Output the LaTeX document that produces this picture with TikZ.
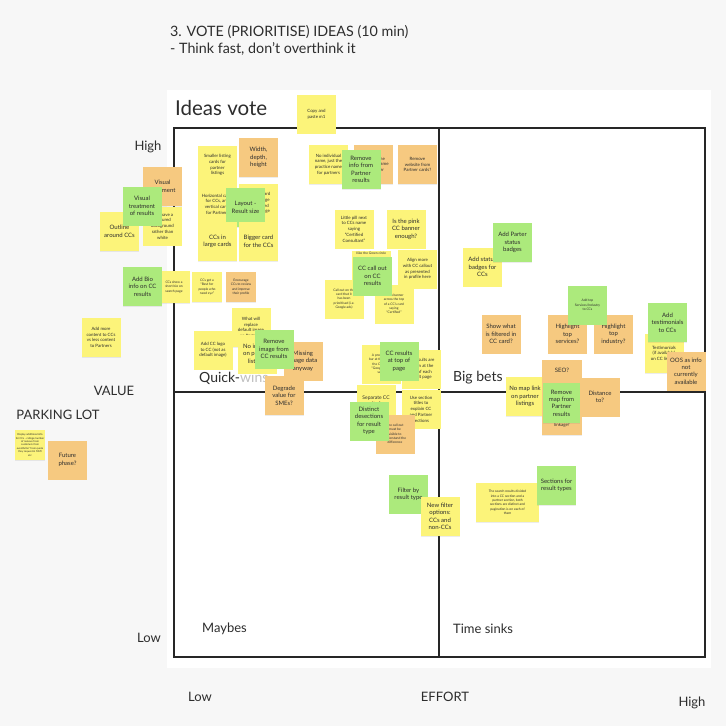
\documentclass[tikz,border=0pt]{standalone}
\usepackage{fontspec}
\setmainfont{Lato}
\usetikzlibrary{shadows}
\definecolor{bgc}{RGB}{247,247,247}
\definecolor{ink}{RGB}{45,45,45}
\definecolor{stY}{RGB}{252,244,122}
\definecolor{stG}{RGB}{172,234,124}
\definecolor{stO}{RGB}{246,201,128}
\tikzset{
  note/.style={minimum width=39pt, minimum height=39pt, inner sep=0pt, align=center,
    text=ink, font=\fontsize{6}{7.4}\selectfont,
    drop shadow={shadow xshift=0.3pt, shadow yshift=-0.7pt, opacity=0.15}},
  ynote/.style={note, fill=stY},
  gnote/.style={note, fill=stG},
  onote/.style={note, fill=stO},
  sm/.style={font=\fontsize{4.4}{5.7}\selectfont},
  tn/.style={font=\fontsize{3.3}{4.3}\selectfont},
  lbl/.style={text=ink, font=\fontsize{13}{15}\selectfont, inner sep=0pt},
  frame/.style={line width=1.6pt, black!85},
}
\begin{document}
\begin{tikzpicture}[x=1pt,y=-1pt]
\useasboundingbox (0,0) rectangle (726,726);
\fill[bgc] (0,0) rectangle (726,726);
\fill[white] (167,90) rectangle (711,668);

% header
\node[lbl, anchor=west, font=\fontsize{14.3}{16}\selectfont] (h1) at (170,32) {3. VOTE (PRIORITISE) IDEAS (10 min)};
\node[lbl, anchor=west, font=\fontsize{14.3}{16}\selectfont] (h2) at (170,49) {- Think fast, don't overthink it};
\node[lbl, anchor=west, font=\fontsize{20.5}{22}\selectfont] (title) at (175,108) {Ideas vote};

% frame
\draw[frame] (174,128) rectangle (705,657);
\coordinate (vt) at (439,128); \coordinate (vb) at (439,657);
\coordinate (hl) at (174,392); \coordinate (hr) at (705,392);
\draw[frame] (vt) -- (vb);
\draw[frame] (hl) -- (hr);

% axis labels
\node[lbl] (vhigh) at (148,147) {High};
\node[lbl] (vlow) at (149,638) {Low};
\node[lbl] (value) at (114,391) {VALUE};
\node[lbl] (park) at (58,415) {PARKING LOT};
\node[lbl] (elow) at (200,697) {Low};
\node[lbl] (effort) at (445,697) {EFFORT};
\node[lbl] (ehigh) at (692,703) {High};
\node[lbl, anchor=west, font=\fontsize{14}{15}\selectfont] (qw) at (199,378) {Quick-\textcolor{black!25}{wins}};
\node[lbl, anchor=west, font=\fontsize{14}{15}\selectfont] (bb) at (453,378) {Big bets};
\node[lbl, anchor=west] (mb) at (202,629) {Maybes};
\node[lbl, anchor=west] (ts) at (453,629) {Time sinks};

% top-left cluster
\node[onote] (visualtreat) at (162.5,186.5) {Visual\\treatment};
\node[ynote, sm] (colouredbg) at (162.5,226) {CCs have a\\coloured\\background\\rather than\\white};
\node[ynote] (outline) at (119.5,231.5) {Outline\\around CCs};
\node[gnote] (visualres) at (142,206) {Visual\\treatment\\of results};

\node[ynote, sm] (smaller) at (217.5,165) {Smaller listing\\cards for\\partner\\listings};
\node[onote] (width) at (258.5,157.5) {Width,\\depth,\\height};
\node[ynote, sm] (horizontal) at (217.5,204) {Horizontal cards\\for CCs, and\\vertical cards\\for Partners};
\node[ynote, sm] (cardsize) at (258.5,203) {Reduce card\\size? Image\\is enlarged\\on the page};
\node[gnote] (layout) at (245.5,207.5) {Layout -\\Result size};
\node[ynote] (cclarge) at (217.5,241.5) {CCs in\\large cards};
\node[ynote] (bigger) at (258.5,241.5) {Bigger card\\for the CCs};
\node[ynote, sm] (copy) at (316.5,114) {Copy and\\paste m1};

% top-middle cluster
\node[ynote, sm] (noindiv) at (328.5,164.5) {No individual\\name, just the\\practice name\\for partners};
\node[onote, sm] (removename) at (373.5,164.5) {Remove the\\individual name\\for partner};
\node[gnote] (removeinfo) at (361,169.5) {Remove\\info from\\Partner\\results};
\node[onote, sm] (removeweb) at (417.5,164.5) {Remove\\website from\\Partner cards?};
\node[ynote, sm] (pill) at (354,229) {Little pill next\\to CCs name\\saying\\``Certified\\Consultant''};
\node[ynote] (pink) at (406,229) {Is the pink\\CC banner\\enough?};
\node[ynote, label={[tn, text=ink, anchor=north, inner sep=2pt]north:I like the Green circle}] (greencircle) at (371,270) {};
\node[ynote, sm] (align) at (417.5,269) {Align more\\with CC callout\\as presented\\in profile here};
\node[ynote, tn] (callout) at (344,299) {Call out on the\\card that it\\has been\\prioritised (i.e.\\Google ads)};
\node[ynote, tn] (banner) at (394,304) {Add a banner\\across the top\\of a CC's card\\saying\\``Certified''};
\node[gnote] (ccallout) at (372.5,276) {CC call out\\on CC\\results};

% left-middle cluster
\node[ynote, tn, minimum width=32pt, minimum height=32pt] (ccsbio) at (174,287) {CCs show a\\short bio on\\search page};
\node[gnote] (addbio) at (142.5,286.5) {Add Bio\\info on CC\\results};
\node[ynote, tn, minimum width=30pt, minimum height=30pt] (bestfor) at (207,287) {CCs get a\\``Best for\\people who\\need xyz''};
\node[onote, tn, minimum width=30pt, minimum height=30pt] (encourage) at (241,287) {Encourage\\CCs to review\\and improve\\their profile};
\node[ynote, sm] (addmore) at (101,337.5) {Add more\\content to CCs\\vs less content\\to Partners};
\node[ynote, sm] (whatwill) at (251,327.5) {What will\\replace\\default image\\on Partners};
\node[ynote, sm] (addlogo) at (213,350) {Add CC logo\\to CC (not as\\default image)};
\node[ynote] (noimages) at (257,354) {No images\\on partner\\listings};
\node[onote] (missing) at (303,361) {Missing\\image data\\anyway};
\node[gnote] (removeimg) at (274,349) {Remove\\image from\\CC results};
\node[onote] (degrade) at (284,395.5) {Degrade\\value for\\SMEs?};

% centre cluster
\node[ynote, tn] (prominent) at (381,364) {A prominent\\bar at the top of\\the CC card\\``Google ads''\\seen};
\node[ynote, sm] (shownattop) at (421,369) {CC results are\\shown at the\\top of each\\result page};
\node[gnote] (ccresults) at (399,361) {CC results\\at top of\\page};
\node[ynote, font=\fontsize{5}{6.4}\selectfont] (separate) at (376,404) {Separate CC\\results from\\Partners};
\node[ynote, sm] (usesection) at (421,409) {Use section\\titles to\\explain CC\\and Partner\\sections};
\node[onote, tn] (callmust) at (395,434) {The call out\\must be\\visible to\\understand the\\difference};
\node[gnote] (distinct) at (369,421) {Distinct\\desections\\for result\\type};

% right cluster
\node[ynote] (addstatus) at (482.5,267) {Add status\\badges for\\CCs};
\node[gnote] (addparter) at (512.5,242.5) {Add Parter\\status\\badges};
\node[onote] (showwhat) at (501,334) {Show what\\is filtered in\\CC card?};
\node[onote] (hlservices) at (567.5,334) {Highlight\\top\\services?};
\node[onote] (hlindustry) at (613.5,334) {Highlight\\top\\industry?};
\node[gnote, tn] (addtop) at (587.5,305) {Add top\\Services/Industry\\to CCs};
\node[ynote, sm] (testim) at (664,353.5) {Testimonials\\(if available)\\on CC listings};
\node[gnote] (addtestim) at (667.5,322.5) {Add\\testimonials\\to CCs};
\node[onote] (oos) at (686,371) {OOS as info\\not\\currently\\available};
\node[ynote] (nomap) at (525,396.5) {No map link\\on partner\\listings};
\node[onote, minimum width=40pt, minimum height=75pt] (seo) at (562,397.5) {SEO?\\[47pt]{\fontsize{4.4}{5}\selectfont linkage?}};
\node[onote] (distance) at (600,397) {Distance\\to?};
\node[gnote, minimum width=37pt, minimum height=40pt] (removemap) at (561.5,403) {Remove\\map from\\Partner\\results};

% lower cluster
\node[gnote] (filter) at (408.5,494) {Filter by\\result type};
\node[ynote] (newfilter) at (440,516.5) {New filter\\options:\\CCs and\\non-CCs};
\node[ynote, tn, minimum width=63pt] (searchres) at (507.5,502.5) {The search results divided\\into a CC section and a\\partner section, both\\sections are distinct and\\pagination is on each of\\them};
\node[gnote] (sections) at (556.5,485.5) {Sections for\\result types};

% parking lot
\node[ynote, font=\fontsize{2.6}{3.4}\selectfont, minimum width=30pt, minimum height=30pt] (pnote) at (30,445) {Display additional info\\for CCs - ratings/number\\of reviews from\\customers from\\eventbrite? from quote\\they request in MMI\\etc};
\node[onote] (future) at (67.5,460) {Future\\phase?};
\end{tikzpicture}
\end{document}
